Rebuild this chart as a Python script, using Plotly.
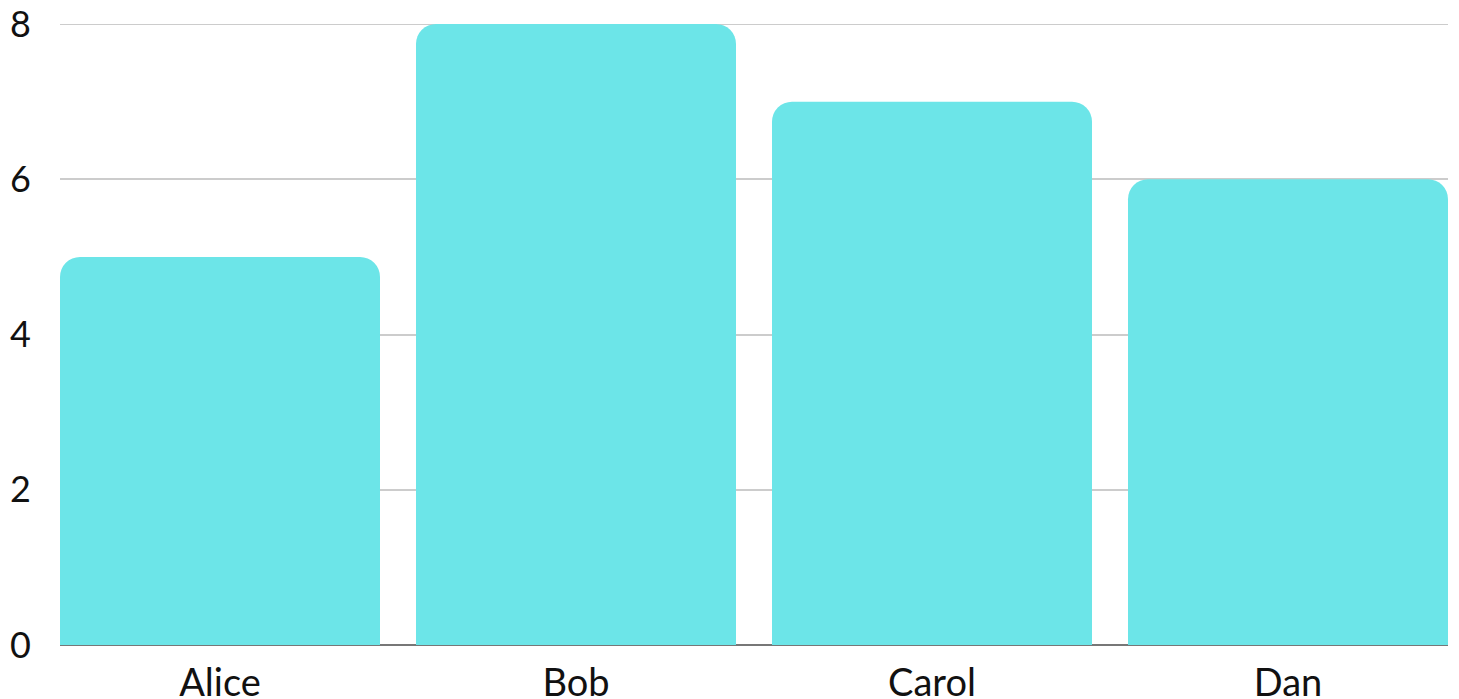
import plotly.graph_objects as go

categories = ["Alice", "Bob", "Carol", "Dan"]
values = [5, 8, 7, 6]
y_ticks = [0, 2, 4, 6, 8]

gap = 36 / 356
fig = go.Figure(go.Bar(x=categories, y=values, marker=dict(color="#6ce5e8", line=dict(width=0))))
fig.update_layout(
    width=1459, height=699,
    margin=dict(l=60, r=11, t=24, b=54, autoexpand=False),
    paper_bgcolor="white", plot_bgcolor="white",
    bargap=gap, barcornerradius=20,
    font=dict(family="Lato, Nunito, sans-serif", size=38, color="#111"),
    showlegend=False,
    xaxis=dict(range=[-0.5 + gap / 2, 3.5 - gap / 2], showgrid=False, showline=False,
               ticks="", ticklabelstandoff=12, automargin=False, tickfont=dict(size=38)),
    yaxis=dict(range=[0, 8], tickvals=y_ticks, showgrid=True, gridcolor="#cccccc", gridwidth=2,
               zeroline=True, zerolinecolor="#777777", zerolinewidth=2, automargin=False,
               ticks="", ticklabelstandoff=28, tickfont=dict(size=36), layer="below traces"),
    shapes=[dict(type="line", xref="paper", x0=0, x1=1, yref="y", y0=y_ticks[-1], y1=y_ticks[-1],
                 line=dict(color="#cccccc", width=2), layer="below")],
)
fig.write_html("out.html")
